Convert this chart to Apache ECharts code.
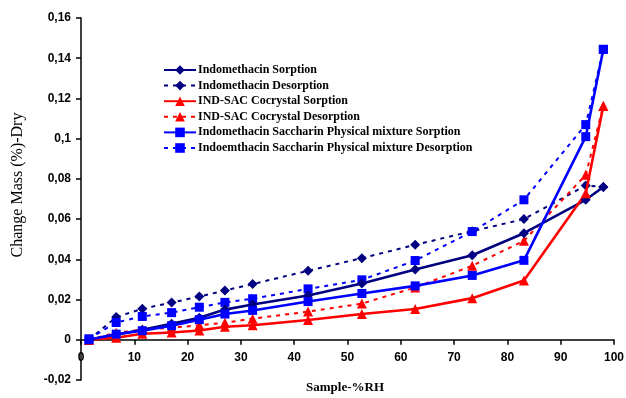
<!DOCTYPE html>
<html>
<head>
<meta charset="utf-8">
<script src="https://cdn.jsdelivr.net/npm/echarts@6/dist/echarts.min.js"></script>
<style>html,body{margin:0;padding:0;background:#fff;}#c{width:626px;height:398px;}</style>
</head>
<body>
<div id="c"></div>
<script>
// RH points (x values)
const rh = [1.5, 6.6, 11.5, 17, 22.2, 27, 32.2, 42.6, 52.7, 62.7, 73.4, 83.1, 94.7, 98];

const indSorption   = [0, 0.0025, 0.005, 0.008, 0.011, 0.015, 0.0175, 0.022, 0.028, 0.035, 0.042, 0.053, 0.0696, 0.076];
const indDesorption = [0, 0.0113, 0.0154, 0.0185, 0.0215, 0.0245, 0.0277, 0.0343, 0.0406, 0.0472, 0.054, 0.060, 0.0767, 0.076];
const cocSorption   = [0, 0.001, 0.003, 0.0036, 0.0046, 0.0065, 0.0072, 0.0098, 0.0128, 0.0153, 0.0207, 0.0295, 0.0729, 0.1163];
const cocDesorption = [0, 0.0035, 0.005, 0.006, 0.0072, 0.0085, 0.0105, 0.014, 0.018, 0.026, 0.0368, 0.0492, 0.082, 0.1163];
const pmSorption    = [0, 0.0028, 0.0045, 0.007, 0.010, 0.0128, 0.0146, 0.019, 0.023, 0.0268, 0.032, 0.0395, 0.101, 0.1444];
const pmDesorption  = [0.0005, 0.0086, 0.0116, 0.0135, 0.0162, 0.0186, 0.0204, 0.0253, 0.0298, 0.0394, 0.0538, 0.0696, 0.107, 0.1444];

const seriesNames = [
  'Indomethacin Sorption',
  'Indomethacin Desorption',
  'IND-SAC Cocrystal Sorption',
  'IND-SAC Cocrystal Desorption',
  'Indomethacin Saccharin Physical mixture Sorption',
  'Indoemthacin Saccharin Physical mixture Desorption'
];

const yTicks = [-0.02, 0, 0.02, 0.04, 0.06, 0.08, 0.1, 0.12, 0.14, 0.16];
const xTicks = [0, 10, 20, 30, 40, 50, 60, 70, 80, 90, 100];

function pairs(ys) { return rh.map((x, i) => [x, ys[i]]); }

const NAVY = '#000080', RED = '#FF0000', BLUE = '#0000FF';

function mk(name, ys, color, symbol, dotted, size) {
  return {
    name: name, type: 'line', data: pairs(ys),
    symbol: symbol, symbolSize: size,
    itemStyle: { color: color },
    lineStyle: { color: color, width: dotted ? 2 : 2.6, type: dotted ? [4, 5] : 'solid' },
    emphasis: { disabled: true },
    z: dotted ? 2 : 3
  };
}

const GRID_TOP = 18, GRID_BOTTOM = 18, H = 398;
const plotH = H - GRID_TOP - GRID_BOTTOM;
const yMin = yTicks[0], yMax = yTicks[yTicks.length - 1];
// distance from plot bottom up to the zero line, so the x axis sits on y = 0
const zeroOffset = plotH * (0 - yMin) / (yMax - yMin);

const chart = echarts.init(document.getElementById('c'), null, { renderer: 'canvas' });
chart.setOption({
  animation: false,
  backgroundColor: '#fff',
  grid: { left: 81, right: 12, top: GRID_TOP, bottom: GRID_BOTTOM, containLabel: false, outerBoundsMode: 'none' },
  legend: {
    orient: 'vertical', left: 158, top: 59,
    itemWidth: 32, itemHeight: 12, itemGap: 3.6,
    textStyle: { fontFamily: 'Liberation Serif', fontWeight: 'bold', fontSize: 12, color: '#000', padding: [0,0,0,-3] },
    data: seriesNames
  },
  xAxis: {
    type: 'value', min: xTicks[0], max: xTicks[xTicks.length - 1], interval: 10,
    position: 'bottom', offset: -zeroOffset,
    axisLine: { onZero: false, lineStyle: { color: '#000', width: 1.5 } },
    axisTick: { show: true, length: 5, lineStyle: { color: '#000', width: 1.5 } },
    axisLabel: { margin: 12, fontFamily: 'Liberation Sans', fontWeight: 'bold', fontSize: 12, color: '#000' },
    splitLine: { show: false }
  },
  yAxis: {
    type: 'value', min: yMin, max: yMax, interval: 0.02,
    axisLine: { show: true, lineStyle: { color: '#000', width: 1.5 } },
    axisTick: { show: true, length: 5, lineStyle: { color: '#000', width: 1.5 } },
    axisLabel: {
      margin: 10, fontFamily: 'Liberation Sans', fontWeight: 'bold', fontSize: 12, color: '#000',
      formatter: v => String(Math.round(v * 100) / 100).replace('.', ',')
    },
    splitLine: { show: false }
  },
  graphic: [
    { type: 'text', x: 18, y: 185, rotation: Math.PI / 2,
      style: { text: 'Change Mass (%)-Dry', font: '16px "Liberation Serif"', fill: '#000', align: 'center', verticalAlign: 'middle' } },
    { type: 'text', x: 345, y: 388,
      style: { text: 'Sample-%RH', font: 'bold 13px "Liberation Serif"', fill: '#000', align: 'center', verticalAlign: 'middle' } }
  ],
  series: [
    mk(seriesNames[0], indSorption, NAVY, 'diamond', false, 10),
    mk(seriesNames[1], indDesorption, NAVY, 'diamond', true, 10),
    mk(seriesNames[2], cocSorption, RED, 'triangle', false, 10),
    mk(seriesNames[3], cocDesorption, RED, 'triangle', true, 10),
    mk(seriesNames[4], pmSorption, BLUE, 'rect', false, 9),
    mk(seriesNames[5], pmDesorption, BLUE, 'rect', true, 9)
  ]
});
</script>
</body>
</html>
